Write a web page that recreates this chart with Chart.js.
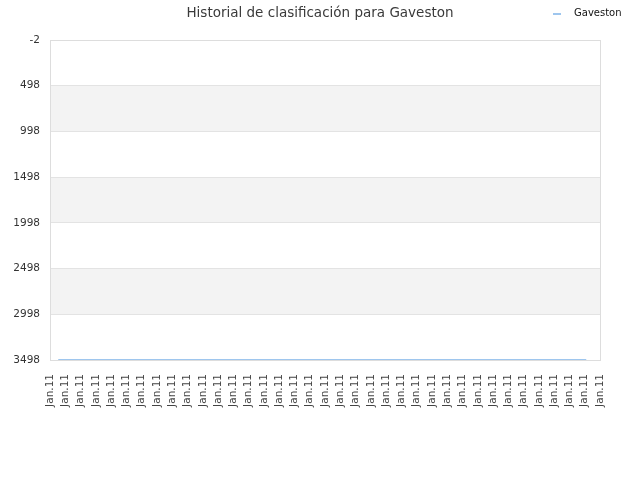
<!DOCTYPE html>
<html>
<head>
<meta charset="utf-8">
<script src="https://cdn.jsdelivr.net/npm/chart.js@4/dist/chart.umd.min.js"></script>
<style>
  body { margin: 0; background: #fff; }
</style>
</head>
<body>
<canvas id="rankChart" width="640" height="480"></canvas>
<script>
const xLabels = [
    'Jan.11', 'Jan.11', 'Jan.11', 'Jan.11', 'Jan.11', 'Jan.11', 'Jan.11', 'Jan.11',
    'Jan.11', 'Jan.11', 'Jan.11', 'Jan.11', 'Jan.11', 'Jan.11', 'Jan.11', 'Jan.11',
    'Jan.11', 'Jan.11', 'Jan.11', 'Jan.11', 'Jan.11', 'Jan.11', 'Jan.11', 'Jan.11',
    'Jan.11', 'Jan.11', 'Jan.11', 'Jan.11', 'Jan.11', 'Jan.11', 'Jan.11', 'Jan.11',
    'Jan.11', 'Jan.11', 'Jan.11', 'Jan.11', 'Jan.11'
];
const yTicks = [-2, 498, 998, 1498, 1998, 2498, 2998, 3498];
const pointX = [0.54, 35.1];
const rankValues = [3498, 3498];

const rankChart = document.querySelector('#rankChart');

// grey bands between every other pair of y ticks, plus the frame
const bands = {
    id: 'bands',
    beforeDraw(chart) {
        const ctx = chart.ctx;
        const area = chart.chartArea;
        const y = chart.scales.y;
        ctx.save();
        ctx.fillStyle = '#f3f3f3';
        for (let i = 1; i < yTicks.length - 1; i += 2) {
            const top = y.getPixelForValue(yTicks[i]);
            const bottom = y.getPixelForValue(yTicks[i + 1]);
            ctx.fillRect(area.left, top, area.right - area.left, bottom - top);
        }
        ctx.restore();
    },
    beforeDatasetsDraw(chart) {
        const ctx = chart.ctx;
        const area = chart.chartArea;
        ctx.save();
        ctx.strokeStyle = '#dddddd';
        ctx.lineWidth = 1;
        ctx.strokeRect(area.left + 0.5, area.top + 0.5, area.right - area.left, area.bottom - area.top);
        ctx.restore();
    }
};

// small legend to the right of the title
const sideLegend = {
    id: 'sideLegend',
    afterDraw(chart) {
        const ctx = chart.ctx;
        const ds = chart.data.datasets[0];
        ctx.save();
        ctx.strokeStyle = ds.borderColor;
        ctx.lineWidth = 2;
        ctx.beginPath();
        ctx.moveTo(553, 14);
        ctx.lineTo(561, 14);
        ctx.stroke();
        ctx.fillStyle = '#111';
        ctx.font = '10px "DejaVu Sans"';
        ctx.textBaseline = 'middle';
        ctx.fillText(ds.label, 574, 13.5);
        ctx.restore();
    }
};

new Chart(rankChart, {
    type: 'line',
    data: {
        datasets: [{
            label: 'Gaveston',
            data: pointX.map(function (x, i) { return { x: x, y: rankValues[i] }; }),
            borderColor: '#9ec6ee',
            borderWidth: 2,
            pointRadius: 0,
            fill: false
        }]
    },
    options: {
        responsive: false,
        animation: false,
        devicePixelRatio: 1,
        layout: { padding: 0 },
        plugins: {
            legend: { display: false },
            tooltip: { enabled: false },
            title: {
                display: true,
                text: 'Historial de clasificación para Gaveston',
                color: '#3a3a3a',
                font: { family: 'DejaVu Sans', size: 13.5, weight: 'normal', lineHeight: 1.2 },
                padding: { top: 5, bottom: 18.8 }
            }
        },
        scales: {
            x: {
                type: 'linear',
                min: 0,
                max: xLabels.length - 1,
                afterBuildTicks(scale) {
                    scale.ticks = xLabels.map(function (l, i) { return { value: i }; });
                },
                afterFit(scale) { scale.height = 120; },
                grid: { display: false },
                border: { display: false },
                ticks: {
                    autoSkip: false,
                    minRotation: 90,
                    maxRotation: 90,
                    padding: 6,
                    color: '#444',
                    font: { family: 'DejaVu Sans', size: 10.5 },
                    callback: function (v, i) { return xLabels[i]; }
                }
            },
            y: {
                reverse: true,
                min: yTicks[0],
                max: yTicks[yTicks.length - 1],
                afterBuildTicks(scale) {
                    scale.ticks = yTicks.map(function (v) { return { value: v }; });
                },
                afterFit(scale) { scale.width = 50; },
                grid: { color: '#e3e3e3', drawTicks: false },
                border: { display: false },
                ticks: {
                    padding: 10,
                    color: '#333',
                    font: { family: 'DejaVu Sans', size: 10.5 },
                    callback: function (v) { return String(v); }
                }
            },
            // empty right gutter so the title stays centred on the page
            gutter: {
                type: 'linear',
                position: 'right',
                display: true,
                afterFit(scale) { scale.width = 40; },
                grid: { display: false },
                border: { display: false },
                ticks: { display: false }
            }
        }
    },
    plugins: [bands, sideLegend]
});
</script>
</body>
</html>
